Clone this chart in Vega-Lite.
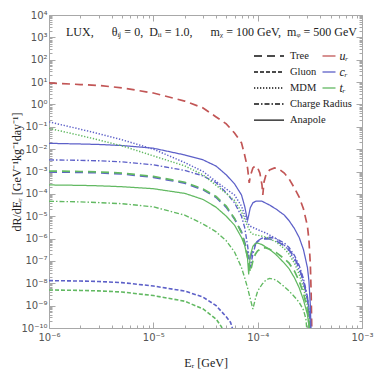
{
  "$schema": "https://vega.github.io/schema/vega-lite/v6.json",
  "width": 313,
  "height": 313,
  "autosize": {"type": "none"},
  "padding": {"left": 49, "top": 15, "right": 12, "bottom": 46},
  "title": {
    "text": "LUX,\u2003\u2002θᵢⱼ = 0,\u2002Dᵢᵢ = 1.0,\u2003\u2002mᵪ = 100 GeV,\u2002mᵩ = 500 GeV",
    "anchor": "start",
    "frame": "group",
    "orient": "top",
    "offset": 0,
    "dx": 17,
    "dy": 38,
    "baseline": "alphabetic",
    "font": "Liberation Serif",
    "fontSize": 12,
    "fontWeight": "normal",
    "color": "#222"
  },
  "data": {
    "values": [
      {"E":1e-6,"R":9.12,"q":"u_R","op":"Tree"},
      {"E":2e-6,"R":7.76,"q":"u_R","op":"Tree"},
      {"E":3e-6,"R":7.08,"q":"u_R","op":"Tree"},
      {"E":5e-6,"R":5.50,"q":"u_R","op":"Tree"},
      {"E":1e-5,"R":3.24,"q":"u_R","op":"Tree"},
      {"E":2e-5,"R":1.41,"q":"u_R","op":"Tree"},
      {"E":3e-5,"R":0.692,"q":"u_R","op":"Tree"},
      {"E":4e-5,"R":0.275,"q":"u_R","op":"Tree"},
      {"E":5e-5,"R":0.135,"q":"u_R","op":"Tree"},
      {"E":6e-5,"R":0.0525,"q":"u_R","op":"Tree"},
      {"E":7e-5,"R":0.0191,"q":"u_R","op":"Tree"},
      {"E":7.5e-5,"R":0.0055,"q":"u_R","op":"Tree"},
      {"E":8e-5,"R":0.00145,"q":"u_R","op":"Tree"},
      {"E":8.3e-5,"R":0.000309,"q":"u_R","op":"Tree"},
      {"E":8.5e-5,"R":0.000631,"q":"u_R","op":"Tree"},
      {"E":9e-5,"R":0.00145,"q":"u_R","op":"Tree"},
      {"E":9.5e-5,"R":0.00178,"q":"u_R","op":"Tree"},
      {"E":1e-4,"R":0.00145,"q":"u_R","op":"Tree"},
      {"E":1.05e-4,"R":0.000851,"q":"u_R","op":"Tree"},
      {"E":1.1e-4,"R":0.000251,"q":"u_R","op":"Tree"},
      {"E":1.12e-4,"R":8.91e-5,"q":"u_R","op":"Tree"},
      {"E":1.15e-4,"R":0.000339,"q":"u_R","op":"Tree"},
      {"E":1.2e-4,"R":0.000692,"q":"u_R","op":"Tree"},
      {"E":1.3e-4,"R":0.00117,"q":"u_R","op":"Tree"},
      {"E":1.45e-4,"R":0.00145,"q":"u_R","op":"Tree"},
      {"E":1.6e-4,"R":0.00129,"q":"u_R","op":"Tree"},
      {"E":1.8e-4,"R":0.000851,"q":"u_R","op":"Tree"},
      {"E":2e-4,"R":0.000468,"q":"u_R","op":"Tree"},
      {"E":2.25e-4,"R":0.000182,"q":"u_R","op":"Tree"},
      {"E":2.5e-4,"R":7.24e-5,"q":"u_R","op":"Tree"},
      {"E":2.75e-4,"R":2.09e-5,"q":"u_R","op":"Tree"},
      {"E":3e-4,"R":3.63e-6,"q":"u_R","op":"Tree"},
      {"E":3.1e-4,"R":8.71e-7,"q":"u_R","op":"Tree"},
      {"E":3.2e-4,"R":6.61e-8,"q":"u_R","op":"Tree"},
      {"E":3.25e-4,"R":5.01e-9,"q":"u_R","op":"Tree"},
      {"E":3.3e-4,"R":1e-10,"q":"u_R","op":"Tree"},
      {"E":3.35e-4,"R":1e-13,"q":"u_R","op":"Tree"},

      {"E":1e-6,"R":0.166,"q":"c_R","op":"MDM"},
      {"E":2e-6,"R":0.0776,"q":"c_R","op":"MDM"},
      {"E":3e-6,"R":0.049,"q":"c_R","op":"MDM"},
      {"E":5e-6,"R":0.0263,"q":"c_R","op":"MDM"},
      {"E":1e-5,"R":0.01,"q":"c_R","op":"MDM"},
      {"E":2e-5,"R":0.00251,"q":"c_R","op":"MDM"},
      {"E":3e-5,"R":0.001,"q":"c_R","op":"MDM"},
      {"E":4e-5,"R":3.55e-4,"q":"c_R","op":"MDM"},
      {"E":5e-5,"R":1.66e-4,"q":"c_R","op":"MDM"},
      {"E":6e-5,"R":8.91e-5,"q":"c_R","op":"MDM"},
      {"E":7e-5,"R":2.82e-5,"q":"c_R","op":"MDM"},
      {"E":7.5e-5,"R":1.12e-5,"q":"c_R","op":"MDM"},
      {"E":8e-5,"R":5.01e-6,"q":"c_R","op":"MDM"},
      {"E":8.5e-5,"R":3.55e-6,"q":"c_R","op":"MDM"},
      {"E":9e-5,"R":3.16e-6,"q":"c_R","op":"MDM"},
      {"E":1e-4,"R":2.51e-6,"q":"c_R","op":"MDM"},
      {"E":1.2e-4,"R":1.78e-6,"q":"c_R","op":"MDM"},
      {"E":1.5e-4,"R":1e-6,"q":"c_R","op":"MDM"},
      {"E":1.8e-4,"R":5.01e-7,"q":"c_R","op":"MDM"},
      {"E":2e-4,"R":2.82e-7,"q":"c_R","op":"MDM"},
      {"E":2.25e-4,"R":1.12e-7,"q":"c_R","op":"MDM"},
      {"E":2.5e-4,"R":3.98e-8,"q":"c_R","op":"MDM"},
      {"E":2.75e-4,"R":1.12e-8,"q":"c_R","op":"MDM"},
      {"E":3e-4,"R":2e-9,"q":"c_R","op":"MDM"},
      {"E":3.1e-4,"R":6.31e-10,"q":"c_R","op":"MDM"},
      {"E":3.2e-4,"R":1e-10,"q":"c_R","op":"MDM"},
      {"E":3.25e-4,"R":1e-13,"q":"c_R","op":"MDM"},

      {"E":1e-6,"R":0.0182,"q":"c_R","op":"Anapole"},
      {"E":2e-6,"R":0.017,"q":"c_R","op":"Anapole"},
      {"E":3e-6,"R":0.0162,"q":"c_R","op":"Anapole"},
      {"E":5e-6,"R":0.0145,"q":"c_R","op":"Anapole"},
      {"E":1e-5,"R":0.011,"q":"c_R","op":"Anapole"},
      {"E":2e-5,"R":0.0055,"q":"c_R","op":"Anapole"},
      {"E":3e-5,"R":0.00331,"q":"c_R","op":"Anapole"},
      {"E":4e-5,"R":0.00174,"q":"c_R","op":"Anapole"},
      {"E":5e-5,"R":7.08e-4,"q":"c_R","op":"Anapole"},
      {"E":6e-5,"R":2.82e-4,"q":"c_R","op":"Anapole"},
      {"E":7e-5,"R":8.91e-5,"q":"c_R","op":"Anapole"},
      {"E":7.5e-5,"R":2.82e-5,"q":"c_R","op":"Anapole"},
      {"E":8e-5,"R":6.31e-6,"q":"c_R","op":"Anapole"},
      {"E":8.5e-5,"R":2.4e-5,"q":"c_R","op":"Anapole"},
      {"E":9e-5,"R":3.98e-5,"q":"c_R","op":"Anapole"},
      {"E":9.5e-5,"R":4.57e-5,"q":"c_R","op":"Anapole"},
      {"E":1e-4,"R":4.79e-5,"q":"c_R","op":"Anapole"},
      {"E":1.1e-4,"R":4.68e-5,"q":"c_R","op":"Anapole"},
      {"E":1.2e-4,"R":3.8e-5,"q":"c_R","op":"Anapole"},
      {"E":1.3e-4,"R":3.16e-5,"q":"c_R","op":"Anapole"},
      {"E":1.5e-4,"R":2.09e-5,"q":"c_R","op":"Anapole"},
      {"E":1.8e-4,"R":1.12e-5,"q":"c_R","op":"Anapole"},
      {"E":2e-4,"R":6.31e-6,"q":"c_R","op":"Anapole"},
      {"E":2.25e-4,"R":2.82e-6,"q":"c_R","op":"Anapole"},
      {"E":2.5e-4,"R":1.12e-6,"q":"c_R","op":"Anapole"},
      {"E":2.75e-4,"R":3.16e-7,"q":"c_R","op":"Anapole"},
      {"E":3e-4,"R":5.01e-8,"q":"c_R","op":"Anapole"},
      {"E":3.1e-4,"R":1.26e-8,"q":"c_R","op":"Anapole"},
      {"E":3.2e-4,"R":1e-9,"q":"c_R","op":"Anapole"},
      {"E":3.25e-4,"R":6.31e-11,"q":"c_R","op":"Anapole"},
      {"E":3.3e-4,"R":1e-13,"q":"c_R","op":"Anapole"},

      {"E":1e-6,"R":0.00331,"q":"c_R","op":"Charge Radius"},
      {"E":2e-6,"R":0.00316,"q":"c_R","op":"Charge Radius"},
      {"E":3e-6,"R":0.00302,"q":"c_R","op":"Charge Radius"},
      {"E":5e-6,"R":0.00269,"q":"c_R","op":"Charge Radius"},
      {"E":1e-5,"R":0.002,"q":"c_R","op":"Charge Radius"},
      {"E":2e-5,"R":0.00112,"q":"c_R","op":"Charge Radius"},
      {"E":3e-5,"R":6.31e-4,"q":"c_R","op":"Charge Radius"},
      {"E":4e-5,"R":3.16e-4,"q":"c_R","op":"Charge Radius"},
      {"E":5e-5,"R":1.12e-4,"q":"c_R","op":"Charge Radius"},
      {"E":6e-5,"R":3.98e-5,"q":"c_R","op":"Charge Radius"},
      {"E":7e-5,"R":1e-5,"q":"c_R","op":"Charge Radius"},
      {"E":7.5e-5,"R":3.16e-6,"q":"c_R","op":"Charge Radius"},
      {"E":8e-5,"R":5.01e-7,"q":"c_R","op":"Charge Radius"},
      {"E":8.5e-5,"R":5.01e-8,"q":"c_R","op":"Charge Radius"},
      {"E":9e-5,"R":2e-7,"q":"c_R","op":"Charge Radius"},
      {"E":9.5e-5,"R":5.01e-7,"q":"c_R","op":"Charge Radius"},
      {"E":1e-4,"R":7.94e-7,"q":"c_R","op":"Charge Radius"},
      {"E":1.1e-4,"R":1.05e-6,"q":"c_R","op":"Charge Radius"},
      {"E":1.3e-4,"R":1.15e-6,"q":"c_R","op":"Charge Radius"},
      {"E":1.5e-4,"R":1e-6,"q":"c_R","op":"Charge Radius"},
      {"E":1.8e-4,"R":6.31e-7,"q":"c_R","op":"Charge Radius"},
      {"E":2e-4,"R":3.98e-7,"q":"c_R","op":"Charge Radius"},
      {"E":2.25e-4,"R":1.78e-7,"q":"c_R","op":"Charge Radius"},
      {"E":2.5e-4,"R":6.31e-8,"q":"c_R","op":"Charge Radius"},
      {"E":2.75e-4,"R":1.58e-8,"q":"c_R","op":"Charge Radius"},
      {"E":3e-4,"R":2.51e-9,"q":"c_R","op":"Charge Radius"},
      {"E":3.1e-4,"R":7.94e-10,"q":"c_R","op":"Charge Radius"},
      {"E":3.2e-4,"R":1.26e-10,"q":"c_R","op":"Charge Radius"},
      {"E":3.25e-4,"R":1e-11,"q":"c_R","op":"Charge Radius"},
      {"E":3.3e-4,"R":1e-13,"q":"c_R","op":"Charge Radius"},

      {"E":1e-6,"R":9.55e-4,"q":"c_R","op":"Tree"},
      {"E":2e-6,"R":9.12e-4,"q":"c_R","op":"Tree"},
      {"E":3e-6,"R":8.71e-4,"q":"c_R","op":"Tree"},
      {"E":5e-6,"R":7.76e-4,"q":"c_R","op":"Tree"},
      {"E":1e-5,"R":5.5e-4,"q":"c_R","op":"Tree"},
      {"E":2e-5,"R":3.02e-4,"q":"c_R","op":"Tree"},
      {"E":3e-5,"R":1.51e-4,"q":"c_R","op":"Tree"},
      {"E":4e-5,"R":6.92e-5,"q":"c_R","op":"Tree"},
      {"E":5e-5,"R":2.51e-5,"q":"c_R","op":"Tree"},
      {"E":6e-5,"R":7.59e-6,"q":"c_R","op":"Tree"},
      {"E":7e-5,"R":2e-6,"q":"c_R","op":"Tree"},
      {"E":7.5e-5,"R":7.08e-7,"q":"c_R","op":"Tree"},
      {"E":8e-5,"R":2e-7,"q":"c_R","op":"Tree"},
      {"E":8.3e-5,"R":5.01e-8,"q":"c_R","op":"Tree"},
      {"E":8.5e-5,"R":1.26e-7,"q":"c_R","op":"Tree"},
      {"E":9e-5,"R":3.55e-7,"q":"c_R","op":"Tree"},
      {"E":9.5e-5,"R":5.62e-7,"q":"c_R","op":"Tree"},
      {"E":1e-4,"R":7.59e-7,"q":"c_R","op":"Tree"},
      {"E":1.1e-4,"R":9.55e-7,"q":"c_R","op":"Tree"},
      {"E":1.2e-4,"R":1e-6,"q":"c_R","op":"Tree"},
      {"E":1.3e-4,"R":9.55e-7,"q":"c_R","op":"Tree"},
      {"E":1.5e-4,"R":7.94e-7,"q":"c_R","op":"Tree"},
      {"E":1.8e-4,"R":4.79e-7,"q":"c_R","op":"Tree"},
      {"E":2e-4,"R":3.16e-7,"q":"c_R","op":"Tree"},
      {"E":2.25e-4,"R":1.41e-7,"q":"c_R","op":"Tree"},
      {"E":2.5e-4,"R":5.01e-8,"q":"c_R","op":"Tree"},
      {"E":2.75e-4,"R":1.26e-8,"q":"c_R","op":"Tree"},
      {"E":3e-4,"R":2e-9,"q":"c_R","op":"Tree"},
      {"E":3.1e-4,"R":5.01e-10,"q":"c_R","op":"Tree"},
      {"E":3.2e-4,"R":6.31e-11,"q":"c_R","op":"Tree"},
      {"E":3.25e-4,"R":1e-13,"q":"c_R","op":"Tree"},

      {"E":1e-6,"R":1.32e-8,"q":"c_R","op":"Gluon"},
      {"E":2e-6,"R":1.26e-8,"q":"c_R","op":"Gluon"},
      {"E":3e-6,"R":1.2e-8,"q":"c_R","op":"Gluon"},
      {"E":5e-6,"R":1.07e-8,"q":"c_R","op":"Gluon"},
      {"E":1e-5,"R":7.59e-9,"q":"c_R","op":"Gluon"},
      {"E":2e-5,"R":4.47e-9,"q":"c_R","op":"Gluon"},
      {"E":3e-5,"R":2.4e-9,"q":"c_R","op":"Gluon"},
      {"E":4e-5,"R":1e-9,"q":"c_R","op":"Gluon"},
      {"E":5e-5,"R":3.16e-10,"q":"c_R","op":"Gluon"},
      {"E":5.5e-5,"R":1.78e-10,"q":"c_R","op":"Gluon"},
      {"E":5.8e-5,"R":7.94e-11,"q":"c_R","op":"Gluon"},
      {"E":6.2e-5,"R":1e-13,"q":"c_R","op":"Gluon"},

      {"E":1e-6,"R":0.0851,"q":"t_R","op":"MDM"},
      {"E":2e-6,"R":0.0407,"q":"t_R","op":"MDM"},
      {"E":3e-6,"R":0.0257,"q":"t_R","op":"MDM"},
      {"E":5e-6,"R":0.0141,"q":"t_R","op":"MDM"},
      {"E":1e-5,"R":0.00501,"q":"t_R","op":"MDM"},
      {"E":2e-5,"R":0.00178,"q":"t_R","op":"MDM"},
      {"E":3e-5,"R":7.08e-4,"q":"t_R","op":"MDM"},
      {"E":4e-5,"R":2.4e-4,"q":"t_R","op":"MDM"},
      {"E":5e-5,"R":1.05e-4,"q":"t_R","op":"MDM"},
      {"E":6e-5,"R":5.01e-5,"q":"t_R","op":"MDM"},
      {"E":7e-5,"R":1.58e-5,"q":"t_R","op":"MDM"},
      {"E":7.5e-5,"R":7.08e-6,"q":"t_R","op":"MDM"},
      {"E":8e-5,"R":3.55e-6,"q":"t_R","op":"MDM"},
      {"E":8.5e-5,"R":2e-6,"q":"t_R","op":"MDM"},
      {"E":9e-5,"R":1.58e-6,"q":"t_R","op":"MDM"},
      {"E":1e-4,"R":1.41e-6,"q":"t_R","op":"MDM"},
      {"E":1.2e-4,"R":1.17e-6,"q":"t_R","op":"MDM"},
      {"E":1.5e-4,"R":7.08e-7,"q":"t_R","op":"MDM"},
      {"E":1.8e-4,"R":3.55e-7,"q":"t_R","op":"MDM"},
      {"E":2e-4,"R":2e-7,"q":"t_R","op":"MDM"},
      {"E":2.25e-4,"R":7.94e-8,"q":"t_R","op":"MDM"},
      {"E":2.5e-4,"R":2.51e-8,"q":"t_R","op":"MDM"},
      {"E":2.75e-4,"R":6.31e-9,"q":"t_R","op":"MDM"},
      {"E":3e-4,"R":1e-9,"q":"t_R","op":"MDM"},
      {"E":3.1e-4,"R":2.51e-10,"q":"t_R","op":"MDM"},
      {"E":3.15e-4,"R":6.31e-11,"q":"t_R","op":"MDM"},
      {"E":3.2e-4,"R":1e-13,"q":"t_R","op":"MDM"},

      {"E":1e-6,"R":2.51e-4,"q":"t_R","op":"Anapole"},
      {"E":2e-6,"R":2.4e-4,"q":"t_R","op":"Anapole"},
      {"E":3e-6,"R":2.29e-4,"q":"t_R","op":"Anapole"},
      {"E":5e-6,"R":2.09e-4,"q":"t_R","op":"Anapole"},
      {"E":1e-5,"R":1.7e-4,"q":"t_R","op":"Anapole"},
      {"E":2e-5,"R":1.05e-4,"q":"t_R","op":"Anapole"},
      {"E":3e-5,"R":5.62e-5,"q":"t_R","op":"Anapole"},
      {"E":4e-5,"R":2.51e-5,"q":"t_R","op":"Anapole"},
      {"E":5e-5,"R":1e-5,"q":"t_R","op":"Anapole"},
      {"E":6e-5,"R":3.98e-6,"q":"t_R","op":"Anapole"},
      {"E":7e-5,"R":1.12e-6,"q":"t_R","op":"Anapole"},
      {"E":7.5e-5,"R":5.01e-7,"q":"t_R","op":"Anapole"},
      {"E":8e-5,"R":1.26e-7,"q":"t_R","op":"Anapole"},
      {"E":8.2e-5,"R":2.51e-8,"q":"t_R","op":"Anapole"},
      {"E":8.5e-5,"R":1.78e-7,"q":"t_R","op":"Anapole"},
      {"E":9e-5,"R":4.47e-7,"q":"t_R","op":"Anapole"},
      {"E":9.5e-5,"R":6.03e-7,"q":"t_R","op":"Anapole"},
      {"E":1e-4,"R":6.31e-7,"q":"t_R","op":"Anapole"},
      {"E":1.1e-4,"R":5.37e-7,"q":"t_R","op":"Anapole"},
      {"E":1.2e-4,"R":4.17e-7,"q":"t_R","op":"Anapole"},
      {"E":1.3e-4,"R":3.31e-7,"q":"t_R","op":"Anapole"},
      {"E":1.5e-4,"R":1.91e-7,"q":"t_R","op":"Anapole"},
      {"E":1.8e-4,"R":7.94e-8,"q":"t_R","op":"Anapole"},
      {"E":2e-4,"R":4.47e-8,"q":"t_R","op":"Anapole"},
      {"E":2.25e-4,"R":1.78e-8,"q":"t_R","op":"Anapole"},
      {"E":2.5e-4,"R":6.31e-9,"q":"t_R","op":"Anapole"},
      {"E":2.75e-4,"R":1.78e-9,"q":"t_R","op":"Anapole"},
      {"E":3e-4,"R":3.98e-10,"q":"t_R","op":"Anapole"},
      {"E":3.1e-4,"R":1.26e-10,"q":"t_R","op":"Anapole"},
      {"E":3.15e-4,"R":3.16e-11,"q":"t_R","op":"Anapole"},
      {"E":3.2e-4,"R":1e-13,"q":"t_R","op":"Anapole"},

      {"E":1e-6,"R":4.68e-5,"q":"t_R","op":"Charge Radius"},
      {"E":2e-6,"R":4.37e-5,"q":"t_R","op":"Charge Radius"},
      {"E":3e-6,"R":4.07e-5,"q":"t_R","op":"Charge Radius"},
      {"E":5e-6,"R":3.63e-5,"q":"t_R","op":"Charge Radius"},
      {"E":1e-5,"R":2.63e-5,"q":"t_R","op":"Charge Radius"},
      {"E":2e-5,"R":1.12e-5,"q":"t_R","op":"Charge Radius"},
      {"E":3e-5,"R":4.47e-6,"q":"t_R","op":"Charge Radius"},
      {"E":4e-5,"R":2e-6,"q":"t_R","op":"Charge Radius"},
      {"E":5e-5,"R":7.94e-7,"q":"t_R","op":"Charge Radius"},
      {"E":6e-5,"R":2.51e-7,"q":"t_R","op":"Charge Radius"},
      {"E":7e-5,"R":5.01e-8,"q":"t_R","op":"Charge Radius"},
      {"E":7.5e-5,"R":1.78e-8,"q":"t_R","op":"Charge Radius"},
      {"E":8e-5,"R":6.31e-9,"q":"t_R","op":"Charge Radius"},
      {"E":8.5e-5,"R":2e-9,"q":"t_R","op":"Charge Radius"},
      {"E":9e-5,"R":7.08e-10,"q":"t_R","op":"Charge Radius"},
      {"E":9.5e-5,"R":2e-9,"q":"t_R","op":"Charge Radius"},
      {"E":1e-4,"R":4.47e-9,"q":"t_R","op":"Charge Radius"},
      {"E":1.1e-4,"R":8.91e-9,"q":"t_R","op":"Charge Radius"},
      {"E":1.2e-4,"R":1.41e-8,"q":"t_R","op":"Charge Radius"},
      {"E":1.3e-4,"R":1.66e-8,"q":"t_R","op":"Charge Radius"},
      {"E":1.5e-4,"R":1.41e-8,"q":"t_R","op":"Charge Radius"},
      {"E":1.8e-4,"R":7.08e-9,"q":"t_R","op":"Charge Radius"},
      {"E":2e-4,"R":4.47e-9,"q":"t_R","op":"Charge Radius"},
      {"E":2.25e-4,"R":2.51e-9,"q":"t_R","op":"Charge Radius"},
      {"E":2.5e-4,"R":1.41e-9,"q":"t_R","op":"Charge Radius"},
      {"E":2.75e-4,"R":6.31e-10,"q":"t_R","op":"Charge Radius"},
      {"E":2.9e-4,"R":2.51e-10,"q":"t_R","op":"Charge Radius"},
      {"E":3e-4,"R":3.98e-11,"q":"t_R","op":"Charge Radius"},
      {"E":3.05e-4,"R":1e-13,"q":"t_R","op":"Charge Radius"},

      {"E":1e-6,"R":1.05e-3,"q":"t_R","op":"Tree"},
      {"E":2e-6,"R":1e-3,"q":"t_R","op":"Tree"},
      {"E":3e-6,"R":9.55e-4,"q":"t_R","op":"Tree"},
      {"E":5e-6,"R":8.51e-4,"q":"t_R","op":"Tree"},
      {"E":1e-5,"R":6.03e-4,"q":"t_R","op":"Tree"},
      {"E":2e-5,"R":3.31e-4,"q":"t_R","op":"Tree"},
      {"E":3e-5,"R":1.66e-4,"q":"t_R","op":"Tree"},
      {"E":4e-5,"R":7.59e-5,"q":"t_R","op":"Tree"},
      {"E":5e-5,"R":2.82e-5,"q":"t_R","op":"Tree"},
      {"E":6e-5,"R":7.94e-6,"q":"t_R","op":"Tree"},
      {"E":7e-5,"R":1.78e-6,"q":"t_R","op":"Tree"},
      {"E":7.5e-5,"R":5.62e-7,"q":"t_R","op":"Tree"},
      {"E":8e-5,"R":1.58e-7,"q":"t_R","op":"Tree"},
      {"E":8.5e-5,"R":3.16e-8,"q":"t_R","op":"Tree"},
      {"E":9e-5,"R":1e-7,"q":"t_R","op":"Tree"},
      {"E":9.5e-5,"R":2e-7,"q":"t_R","op":"Tree"},
      {"E":1e-4,"R":2.82e-7,"q":"t_R","op":"Tree"},
      {"E":1.1e-4,"R":3.8e-7,"q":"t_R","op":"Tree"},
      {"E":1.2e-4,"R":3.8e-7,"q":"t_R","op":"Tree"},
      {"E":1.3e-4,"R":3.31e-7,"q":"t_R","op":"Tree"},
      {"E":1.5e-4,"R":2.4e-7,"q":"t_R","op":"Tree"},
      {"E":1.8e-4,"R":1.26e-7,"q":"t_R","op":"Tree"},
      {"E":2e-4,"R":7.94e-8,"q":"t_R","op":"Tree"},
      {"E":2.25e-4,"R":3.55e-8,"q":"t_R","op":"Tree"},
      {"E":2.5e-4,"R":1.26e-8,"q":"t_R","op":"Tree"},
      {"E":2.75e-4,"R":3.55e-9,"q":"t_R","op":"Tree"},
      {"E":3e-4,"R":6.31e-10,"q":"t_R","op":"Tree"},
      {"E":3.1e-4,"R":1.58e-10,"q":"t_R","op":"Tree"},
      {"E":3.15e-4,"R":5.01e-11,"q":"t_R","op":"Tree"},
      {"E":3.2e-4,"R":1e-13,"q":"t_R","op":"Tree"},

      {"E":1e-6,"R":5.01e-9,"q":"t_R","op":"Gluon"},
      {"E":2e-6,"R":4.79e-9,"q":"t_R","op":"Gluon"},
      {"E":3e-6,"R":4.57e-9,"q":"t_R","op":"Gluon"},
      {"E":5e-6,"R":4.07e-9,"q":"t_R","op":"Gluon"},
      {"E":1e-5,"R":2.82e-9,"q":"t_R","op":"Gluon"},
      {"E":2e-5,"R":1.58e-9,"q":"t_R","op":"Gluon"},
      {"E":3e-5,"R":7.08e-10,"q":"t_R","op":"Gluon"},
      {"E":4e-5,"R":2.51e-10,"q":"t_R","op":"Gluon"},
      {"E":4.5e-5,"R":1.12e-10,"q":"t_R","op":"Gluon"},
      {"E":4.7e-5,"R":6.31e-11,"q":"t_R","op":"Gluon"},
      {"E":5.2e-5,"R":1e-13,"q":"t_R","op":"Gluon"}
    ]
  },
  "layer": [
    {
      "mark": {"type": "line", "clip": true},
      "encoding": {
        "x": {
          "field": "E", "type": "quantitative",
          "scale": {"type": "log", "domain": [1e-6, 1e-3], "nice": false},
          "axis": {
            "orient": "bottom",
            "title": "Eᵣ  [GeV]",
            "titleX": 156.5, "titleY": 34, "titleBaseline": "middle",
            "values": [1e-6,2e-6,3e-6,4e-6,5e-6,6e-6,7e-6,8e-6,9e-6,1e-5,2e-5,3e-5,4e-5,5e-5,6e-5,7e-5,8e-5,9e-5,1e-4,2e-4,3e-4,4e-4,5e-4,6e-4,7e-4,8e-4,9e-4,1e-3],
            "labelExpr": "abs(log(datum.value)/LN10 - round(log(datum.value)/LN10)) < 0.01 ? '10' + ['⁻⁶','⁻⁵','⁻⁴','⁻³'][round(log(datum.value)/LN10)+6] : ''",
            "tickSize": {"condition": {"test": "abs(log(datum.value)/LN10 - round(log(datum.value)/LN10)) < 0.01", "value": -6}, "value": -3},
            "labelPadding": 10,
            "labelFlush": false
          }
        },
        "y": {
          "field": "R", "type": "quantitative",
          "scale": {"type": "log", "domain": [1e-10, 1e4], "nice": false},
          "axis": {
            "orient": "left",
            "title": "dR/dEᵣ  [GeV⁻¹kg⁻¹day⁻¹]",
            "titleX": -33, "titleY": 156.5, "titleBaseline": "middle", "titleAlign": "center",
            "values": [1e-10,2e-10,3e-10,4e-10,5e-10,6e-10,7e-10,8e-10,9e-10,1e-9,2e-9,3e-9,4e-9,5e-9,6e-9,7e-9,8e-9,9e-9,1e-8,2e-8,3e-8,4e-8,5e-8,6e-8,7e-8,8e-8,9e-8,1e-7,2e-7,3e-7,4e-7,5e-7,6e-7,7e-7,8e-7,9e-7,1e-6,2e-6,3e-6,4e-6,5e-6,6e-6,7e-6,8e-6,9e-6,1e-5,2e-5,3e-5,4e-5,5e-5,6e-5,7e-5,8e-5,9e-5,1e-4,2e-4,3e-4,4e-4,5e-4,6e-4,7e-4,8e-4,9e-4,0.001,0.002,0.003,0.004,0.005,0.006,0.007,0.008,0.009,0.01,0.02,0.03,0.04,0.05,0.06,0.07,0.08,0.09,0.1,0.2,0.3,0.4,0.5,0.6,0.7,0.8,0.9,1,2,3,4,5,6,7,8,9,10,20,30,40,50,60,70,80,90,100,200,300,400,500,600,700,800,900,1000,2000,3000,4000,5000,6000,7000,8000,9000,10000],
            "labelExpr": "abs(log(datum.value)/LN10 - round(log(datum.value)/LN10)) < 0.01 ? '10' + ['⁻¹⁰','⁻⁹','⁻⁸','⁻⁷','⁻⁶','⁻⁵','⁻⁴','⁻³','⁻²','⁻¹','⁰','¹','²','³','⁴'][round(log(datum.value)/LN10)+10] : ''",
            "tickSize": {"condition": {"test": "abs(log(datum.value)/LN10 - round(log(datum.value)/LN10)) < 0.01", "value": -6}, "value": -3},
            "labelPadding": 8
          }
        },
        "color": {
          "field": "q", "type": "nominal",
          "scale": {"domain": ["u_R", "c_R", "t_R"], "range": ["#c25656", "#5d60c8", "#62b962"]},
          "legend": {
            "orient": "none", "legendX": 274, "legendY": 35, "title": null, "padding": 0,
            "symbolType": "M-1.3,0H1.3", "symbolSize": 100, "symbolStrokeWidth": 1.3,
            "labelOffset": 4.5, "rowPadding": 4,
            "labelFont": "Liberation Serif", "labelFontSize": 12, "labelFontStyle": "italic", "labelColor": "#222",
            "labelExpr": "datum.label == 'u_R' ? 'uᵣ' : datum.label == 'c_R' ? 'cᵣ' : 'tᵣ'"
          }
        },
        "strokeDash": {
          "field": "op", "type": "nominal",
          "scale": {"domain": ["Tree", "Gluon", "MDM", "Charge Radius", "Anapole"], "range": [[8, 5], [4, 2], [1.3, 1.7], [5, 2, 1.5, 2], [1, 0]]},
          "legend": {
            "orient": "none", "legendX": 214, "legendY": 35, "title": null, "padding": 0,
            "symbolType": "M-3,0H3", "symbolSize": 100, "symbolStrokeWidth": 1.4, "symbolStrokeColor": "#111",
            "labelOffset": 15, "rowPadding": 4,
            "labelFont": "Liberation Serif", "labelFontSize": 10.5, "labelColor": "#222"
          }
        },
        "strokeWidth": {
          "field": "op", "type": "nominal",
          "scale": {"domain": ["Tree", "Gluon", "MDM", "Charge Radius", "Anapole"], "range": [1.7, 1.25, 1.25, 1.25, 1.25]},
          "legend": null
        }
      }
    },
    {
      "mark": {"type": "point", "opacity": 0, "clip": true},
      "encoding": {
        "x": {
          "field": "E", "type": "quantitative",
          "scale": {"type": "log", "domain": [1e-6, 1e-3], "nice": false},
          "axis": {
            "orient": "top", "title": null, "labels": false,
            "values": [1e-6,2e-6,3e-6,4e-6,5e-6,6e-6,7e-6,8e-6,9e-6,1e-5,2e-5,3e-5,4e-5,5e-5,6e-5,7e-5,8e-5,9e-5,1e-4,2e-4,3e-4,4e-4,5e-4,6e-4,7e-4,8e-4,9e-4,1e-3],
            "tickSize": {"condition": {"test": "abs(log(datum.value)/LN10 - round(log(datum.value)/LN10)) < 0.01", "value": -6}, "value": -3}
          }
        },
        "y": {
          "field": "R", "type": "quantitative",
          "scale": {"type": "log", "domain": [1e-10, 1e4], "nice": false},
          "axis": {
            "orient": "right", "title": null, "labels": false,
            "values": [1e-10,2e-10,3e-10,4e-10,5e-10,6e-10,7e-10,8e-10,9e-10,1e-9,2e-9,3e-9,4e-9,5e-9,6e-9,7e-9,8e-9,9e-9,1e-8,2e-8,3e-8,4e-8,5e-8,6e-8,7e-8,8e-8,9e-8,1e-7,2e-7,3e-7,4e-7,5e-7,6e-7,7e-7,8e-7,9e-7,1e-6,2e-6,3e-6,4e-6,5e-6,6e-6,7e-6,8e-6,9e-6,1e-5,2e-5,3e-5,4e-5,5e-5,6e-5,7e-5,8e-5,9e-5,1e-4,2e-4,3e-4,4e-4,5e-4,6e-4,7e-4,8e-4,9e-4,0.001,0.002,0.003,0.004,0.005,0.006,0.007,0.008,0.009,0.01,0.02,0.03,0.04,0.05,0.06,0.07,0.08,0.09,0.1,0.2,0.3,0.4,0.5,0.6,0.7,0.8,0.9,1,2,3,4,5,6,7,8,9,10,20,30,40,50,60,70,80,90,100,200,300,400,500,600,700,800,900,1000,2000,3000,4000,5000,6000,7000,8000,9000,10000],
            "tickSize": {"condition": {"test": "abs(log(datum.value)/LN10 - round(log(datum.value)/LN10)) < 0.01", "value": -6}, "value": -3}
          }
        }
      }
    }
  ],
  "resolve": {"axis": {"x": "independent", "y": "independent"}},
  "config": {
    "view": {"stroke": null},
    "axis": {
      "grid": false,
      "domainColor": "#a8a8a8",
      "tickColor": "#a8a8a8",
      "labelColor": "#555",
      "labelFont": "DejaVu Sans",
      "labelFontSize": 10,
      "labelOverlap": false,
      "labelBound": false,
      "titleFont": "Liberation Serif",
      "titleFontSize": 12,
      "titleFontWeight": "normal",
      "titleColor": "#222"
    }
  }
}
